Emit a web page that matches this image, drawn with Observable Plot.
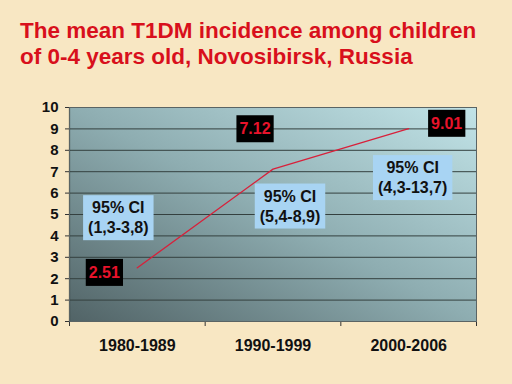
<!DOCTYPE html>
<html><head><meta charset="utf-8">
<script src="https://cdn.jsdelivr.net/npm/d3@7"></script>
<script src="https://cdn.jsdelivr.net/npm/@observablehq/plot@0.6"></script>
<style>
html,body{margin:0;padding:0;background:#f8e7c3;}
#wrap{position:relative;width:512px;height:384px;overflow:hidden;background:#f8e7c3;}
#wrap svg{position:absolute;left:0;top:0;}
#title{position:absolute;left:20px;top:18px;font:bold 22.5px "Liberation Sans",Arial,sans-serif;color:#d8101c;line-height:26px;white-space:nowrap;z-index:2;}
</style></head><body>
<div id="wrap"><div id="title">The mean T1DM incidence among children<br>of 0-4 years old, Novosibirsk, Russia</div></div>
<script>
const periods = ["1980-1989", "1990-1999", "2000-2006"];
const incidence = [2.51, 7.12, 9.01];
const ciLabels = ["95% CI\n(1,3-3,8)", "95% CI\n(5,4-8,9)", "95% CI\n(4,3-13,7)"];
const yTicks = [0, 1, 2, 3, 4, 5, 6, 7, 8, 9, 10];

const data = periods.map((p, i) => ({period: p, pos: i + 0.5, value: incidence[i], ci: ciLabels[i]}));

// label offsets (layout only)
const valueOffsets = [[-33, 5], [-18, -40], [38, -5]];
const ciOffsets = [[-19, -51], [17, 36], [4, 48]];

const marks = [
  Plot.frame({fill: "url(#plotbg)", stroke: "none"}),
  Plot.gridY(yTicks, {stroke: "#34403f", strokeOpacity: 1, strokeWidth: 1}),
  Plot.axisY(yTicks, {tickSize: 4, tickPadding: 7, fontSize: 15, label: null, stroke: "#333"}),
  Plot.axisX([0, 1, 2, 3], {tickSize: 5, tickFormat: () => "", label: null, stroke: "#333"}),
  Plot.axisX([0.5, 1.5, 2.5], {tickSize: 0, tickPadding: 18, fontSize: 16, tickFormat: d => periods[Math.round(d - 0.5)], label: null}),
  Plot.ruleX([0], {stroke: "#2a3333", strokeWidth: 1.2}),
  Plot.ruleY([0], {stroke: "#2a3333", strokeWidth: 1.2}),
  Plot.frame({stroke: "#5a6464", strokeWidth: 1}),
  Plot.line(data, {x: "pos", y: "value", stroke: "#d8203a", strokeWidth: 1.3})
];
data.forEach((d, i) => {
  marks.push(Plot.text([d], {x: "pos", y: "value", text: "ci", dx: ciOffsets[i][0], dy: ciOffsets[i][1],
    fill: "#111", fontSize: 16, lineHeight: 1.25, className: "cilabel"}));
  marks.push(Plot.text([d], {x: "pos", y: "value", text: v => v.value.toFixed(2), dx: valueOffsets[i][0], dy: valueOffsets[i][1],
    fill: "#e8132b", fontSize: 16, className: "vlabel"}));
});

const chart = Plot.plot({
  width: 512,
  height: 384,
  marginTop: 107,
  marginLeft: 69,
  marginRight: 36,
  marginBottom: 63,
  style: {fontFamily: "'Liberation Sans', Arial, sans-serif", fontWeight: "bold", color: "#111", background: "transparent"},
  x: {type: "linear", domain: [0, 3], axis: null},
  y: {domain: [0, 10], axis: null},
  marks
});

const defs = d3.select(chart).insert("defs", ":first-child");
const grad = defs.append("linearGradient").attr("id", "plotbg")
  .attr("x1", "0").attr("y1", "1").attr("x2", "1").attr("y2", "0");
grad.append("stop").attr("offset", "0").attr("stop-color", "#516366");
grad.append("stop").attr("offset", "0.5").attr("stop-color", "#8eadb1");
grad.append("stop").attr("offset", "1").attr("stop-color", "#c2e4e8");

document.getElementById("wrap").appendChild(chart);

function boxes(cls, fill, px, py) {
  d3.select(chart).selectAll("g." + cls + " text").each(function() {
    const b = this.getBBox();
    const r = d3.select(this.parentNode).insert("rect", () => this)
      .attr("x", b.x - px).attr("y", b.y - py)
      .attr("width", b.width + 2 * px).attr("height", b.height + 2 * py)
      .attr("fill", fill);
    const t = this.getAttribute("transform");
    if (t) r.attr("transform", t);
  });
}
boxes("cilabel", "#a8d4f3", 5, 4);
boxes("vlabel", "#000", 3, 5);
</script>
</body></html>
